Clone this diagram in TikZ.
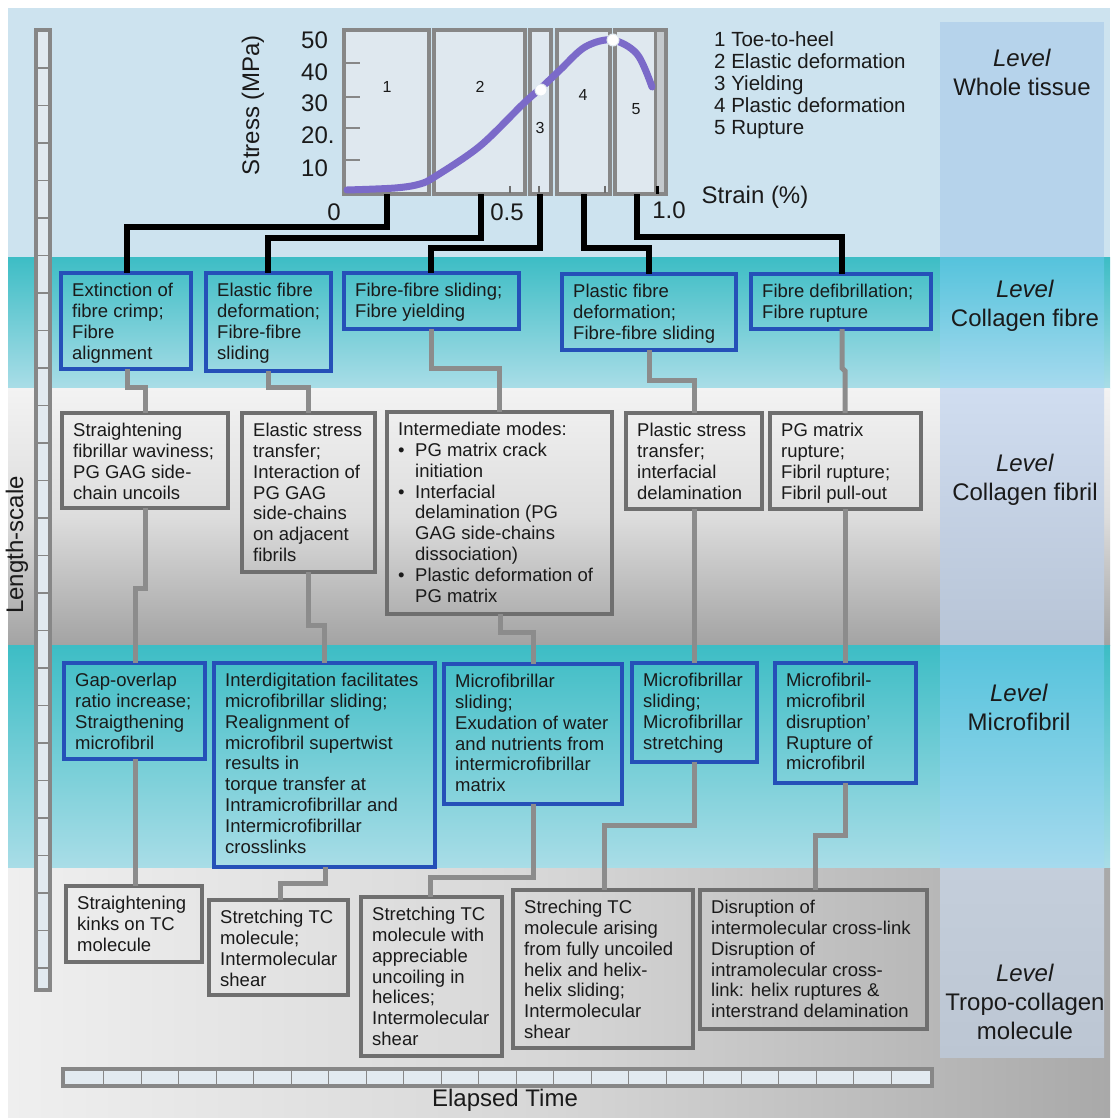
\documentclass[tikz,border=0pt]{standalone}
\usepackage{fontspec}
\setmainfont{Liberation Sans}
\definecolor{bgwhole}{HTML}{CDE3EF}
\definecolor{tealtop}{HTML}{3DBDC5}
\definecolor{tealbot}{HTML}{A9DDE7}
\definecolor{fibtop}{HTML}{F3F3F3}
\definecolor{fibmid}{HTML}{DDDDDD}
\definecolor{fibbot}{HTML}{A3A3A3}
\definecolor{trleft}{HTML}{EFEFEF}
\definecolor{trmid}{HTML}{D6D6D6}
\definecolor{trright}{HTML}{A9A9A9}
\definecolor{pwhole}{HTML}{B6D3EB}
\definecolor{ptealtop}{HTML}{55C3DC}
\definecolor{ptealbot}{HTML}{A6DAEE}
\definecolor{pfibtop}{HTML}{D0DDF0}
\definecolor{pfibbot}{HTML}{B7C4D6}
\definecolor{ptrotop}{HTML}{C4CEDB}
\definecolor{ptrobot}{HTML}{BCC6D3}
\definecolor{boxblue}{HTML}{2550B8}
\definecolor{boxgray}{HTML}{6F6F6F}
\definecolor{congray}{HTML}{8C8C8C}
\definecolor{chartgray}{HTML}{878787}
\definecolor{chartfill}{HTML}{DFE8EF}
\definecolor{stripgray}{HTML}{C4C9CD}
\definecolor{curvecol}{HTML}{7B6AC9}
\definecolor{txtc}{HTML}{1A1A1A}
\definecolor{rulerfill}{HTML}{E2EAF0}
\tikzset{
  bluebox/.style={draw=boxblue, line width=4pt, outer sep=0pt, inner sep=0pt},
  graybox/.style={draw=boxgray, line width=4pt, outer sep=0pt, inner sep=0pt},
  txt/.style={font=\fontsize{18.5}{20.8}\selectfont, align=left, inner sep=0pt, text=txtc},
  blk/.style={line width=6pt, black},
  gcon/.style={line width=5pt, congray},
  chartbox/.style={draw=chartgray, line width=4pt, fill=chartfill, outer sep=0pt, inner sep=0pt},
  lvl/.style={font=\fontsize{24}{29}\selectfont, align=center, inner sep=0pt, text=txtc},
  big/.style={font=\fontsize{24}{28}\selectfont, inner sep=0pt, text=txtc},
  num/.style={font=\fontsize{16}{18}\selectfont, inner sep=0pt, text=txtc},
  rtick/.style={line width=1.2pt, chartgray},
  ruler/.style={draw=chartgray, line width=3.5pt, fill=rulerfill}
}
\newcommand\mybox[7]{%
  \node[#1, anchor=north west, minimum width={#5-#3}, minimum height={#6-#4}] (#2) at (#3,#4) {};
  \node[txt, anchor=north west] at ([xshift=11pt,yshift=-10pt]#2.north west) {#7};}
\begin{document}
\begin{tikzpicture}[x=1pt,y=-1pt]
\useasboundingbox (0,0) rectangle (1110,1118);
\fill[white] (0,0) rectangle (1110,1118);
% bands
\fill[bgwhole] (8,8) rectangle (1110,257);
\shade[top color=tealtop, bottom color=tealbot] (8,257) rectangle (1110,388);
\shade[top color=fibtop, bottom color=fibbot, middle color=fibmid] (8,388) rectangle (1110,645);
\shade[top color=tealtop, bottom color=tealbot] (8,645) rectangle (1110,868);
\shade[left color=trleft, right color=trright, middle color=trmid] (8,868) rectangle (1110,1118);
% level panel
\fill[pwhole] (940,22) rectangle (1104,257);
\shade[top color=ptealtop, bottom color=ptealbot] (940,257) rectangle (1104,388);
\shade[top color=pfibtop, bottom color=pfibbot] (940,388) rectangle (1104,645);
\shade[top color=ptealtop, bottom color=ptealbot] (940,645) rectangle (1104,868);
\shade[top color=ptrotop, bottom color=ptrobot] (940,868) rectangle (1104,1057);
\node[lvl, anchor=north] (lv1) at (1022,49) {\textit{Level}\\Whole tissue};
\node[lvl, anchor=north] (lv2) at (1025,279.5) {\textit{Level}\\Collagen fibre};
\node[lvl, anchor=north] (lv3) at (1025,453.5) {\textit{Level}\\Collagen fibril};
\node[lvl, anchor=north] (lv4) at (1019,683.5) {\textit{Level}\\Microfibril};
\node[lvl, anchor=north] (lv5) at (1025,963.5) {\textit{Level}\\Tropo-collagen\\molecule};
% rulers
\draw[ruler] (36,30) rectangle (50,990);
\foreach \k in {0,...,24} \draw[rtick] (38,{68+37.5*\k}) -- (48,{68+37.5*\k});
\node[big, rotate=90] (lscale) at (17,545) {Length-scale};
\draw[ruler] (63,1069) rectangle (932,1086);
\foreach \k in {0,...,21} \draw[rtick] ({103.6+37.5*\k},1071) -- ({103.6+37.5*\k},1084);
\node[big] (etime) at (505,1100) {Elapsed Time};
% chart
\node[chartbox, anchor=north west, minimum width=85, minimum height=164] (c1) at (344,30) {};
\node[chartbox, anchor=north west, minimum width=91, minimum height=164] (c2) at (434,30) {};
\node[chartbox, anchor=north west, minimum width=21, minimum height=164] (c3) at (530,30) {};
\node[chartbox, anchor=north west, minimum width=53, minimum height=164] (c4) at (557,30) {};
\node[chartbox, anchor=north west, minimum width=51, minimum height=164] (c5) at (615,30) {};
\fill[stripgray] (656,32) rectangle (664,192);
\draw[chartgray, line width=3pt] (655,30) -- (655,194);
\foreach \yy in {63,97,128,160} \draw[chartgray, line width=2.5pt] (346,\yy) -- (360,\yy);
\foreach \xx in {510,539,605} \draw[boxgray, line width=1.5pt] (\xx,186) -- (\xx,193);
\draw[black, line width=3pt] (657,186) -- (657,194);
\draw[curvecol, line width=7pt, line cap=round] plot[smooth, tension=0.55] coordinates {(347,190) (395,188) (420,184) (436,176) (480,146) (523,104) (541,88) (560,70) (585,47) (612,40) (637,54) (652,87)};
\fill[white, draw=chartfill, line width=1pt] (541,90) circle (6);
\fill[white, draw=chartfill, line width=1pt] (613,40) circle (6);
\node[num] (n1) at (387,87) {1};
\node[num] (n2) at (480,87) {2};
\node[num] (n3) at (540,128) {3};
\node[num] (n4) at (583,95) {4};
\node[num] (n5) at (636,109) {5};
\node[big, rotate=90] (ylab) at (253,105) {Stress (MPa)};
\node[big, anchor=west] (t50) at (301,40) {50};
\node[big, anchor=west] (t40) at (301,72) {40};
\node[big, anchor=west] (t30) at (301,103) {30};
\node[big, anchor=west] (t20) at (301,135) {20.};
\node[big, anchor=west] (t10) at (301,168) {10};
\node[big] (x0) at (334,212) {0};
\node[big] (x05) at (507,212) {0.5};
\node[big] (x10) at (669,210) {1.0};
\node[big] (xlab) at (755,197) {Strain (\%)};
\node[font=\fontsize{20.5}{22}\selectfont, align=left, anchor=north west, inner sep=0pt, text=txtc] (legend) at (714,31)
  {1 Toe-to-heel\\2 Elastic deformation\\3 Yielding\\4 Plastic deformation\\5 Rupture};
% collagen fibre level
\mybox{bluebox}{fa}{61}{273}{191}{369}{Extinction of\\fibre crimp;\\Fibre\\alignment}
\mybox{bluebox}{fb}{206}{273}{331}{371}{Elastic fibre\\deformation;\\Fibre-fibre\\sliding}
\mybox{bluebox}{fc}{344}{273}{519}{329}{Fibre-fibre sliding;\\Fibre yielding}
\mybox{bluebox}{fd}{562}{274}{736}{350}{Plastic fibre\\deformation;\\Fibre-fibre sliding}
\mybox{bluebox}{fe}{751}{274}{931}{329}{Fibre defibrillation;\\Fibre rupture}
% collagen fibril level
\mybox{graybox}{ga}{62}{413}{228}{508}{Straightening\\fibrillar waviness;\\PG GAG side-\\chain uncoils}
\mybox{graybox}{gb}{242}{413}{375}{572}{Elastic stress\\transfer;\\Interaction of\\PG GAG\\side-chains\\on adjacent\\fibrils}
\mybox{graybox}{gc}{387}{412}{612}{614}{Intermediate modes:\\\makebox[17pt][l]{•}PG matrix crack\\\hspace*{17pt}initiation\\\makebox[17pt][l]{•}Interfacial\\\hspace*{17pt}delamination (PG\\\hspace*{17pt}GAG side-chains\\\hspace*{17pt}dissociation)\\\makebox[17pt][l]{•}Plastic deformation of\\\hspace*{17pt}PG matrix}
\mybox{graybox}{gd}{626}{413}{762}{509}{Plastic stress\\transfer;\\interfacial\\delamination}
\mybox{graybox}{ge}{770}{413}{921}{509}{PG matrix\\rupture;\\Fibril rupture;\\Fibril pull-out}
% microfibril level
\mybox{bluebox}{ma}{64}{663}{205}{759}{Gap-overlap\\ratio increase;\\Straigthening\\microfibril}
\mybox{bluebox}{mb}{214}{663}{435}{867}{Interdigitation facilitates\\microfibrillar sliding;\\Realignment of\\microfibril supertwist\\results in\\torque transfer at\\Intramicrofibrillar and\\Intermicrofibrillar\\crosslinks}
\mybox{bluebox}{mc}{444}{664}{622}{804}{Microfibrillar\\sliding;\\Exudation of water\\and nutrients from\\intermicrofibrillar\\matrix}
\mybox{bluebox}{md}{632}{663}{757}{762}{Microfibrillar\\sliding;\\Microfibrillar\\stretching}
\mybox{bluebox}{me}{775}{663}{916}{783}{Microfibril-\\microfibril\\disruption'\\Rupture of\\microfibril}
% tropo-collagen level
\mybox{graybox}{ta}{66}{886}{202}{962}{Straightening\\kinks on TC\\molecule}
\mybox{graybox}{tb}{209}{900}{348}{995}{Stretching TC\\molecule;\\Intermolecular\\shear}
\mybox{graybox}{tc}{361}{897}{502}{1056}{Stretching TC\\molecule with\\appreciable\\uncoiling in\\helices;\\Intermolecular\\shear}
\mybox{graybox}{td}{513}{890}{693}{1048}{Streching TC\\molecule arising\\from fully uncoiled\\helix and helix-\\helix sliding;\\Intermolecular\\shear}
\mybox{graybox}{te}{700}{890}{927}{1029}{Disruption of\\intermolecular cross-link\\Disruption of\\intramolecular cross-\\link: helix ruptures \&\\interstrand delamination}
% black connectors
\draw[blk] (c1.south -| 387,0) |- (127,227) -- (fa.north -| 127,0);
\draw[blk] (c2.south -| 481,0) |- (268,238) -- (fb.north -| 268,0);
\draw[blk] (c3.south -| 540,0) |- (431,248) -- (fc.north -| 431,0);
\draw[blk] (c4.south -| 584,0) |- (649,248) -- (fd.north -| 649,0);
\draw[blk] (c5.south -| 637,0) |- (842,237) -- (fe.north -| 842,0);
% gray connectors
\draw[gcon] (fa.south -| 127,0) |- (145,387) -- (ga.north -| 145,0);
\draw[gcon] (fb.south -| 268,0) |- (308,387) -- (gb.north -| 308,0);
\draw[gcon] (fc.south -| 431,0) |- (499,368) -- (gc.north -| 499,0);
\draw[gcon] (fd.south -| 649,0) |- (694,380) -- (gd.north -| 694,0);
\draw[gcon] (fe.south -| 842,0) -- (842,368) -- (845,371) -- (ge.north -| 845,0);
\draw[gcon] (ga.south -| 145,0) |- (135,588) -- (ma.north -| 135,0);
\draw[gcon] (gb.south -| 308,0) |- (324,625) -- (mb.north -| 324,0);
\draw[gcon] (gc.south -| 500,0) |- (533,632) -- (mc.north -| 533,0);
\draw[gcon] (gd.south -| 694,0) -- (md.north -| 694,0);
\draw[gcon] (ge.south -| 845,0) -- (me.north -| 845,0);
\draw[gcon] (ma.south -| 135,0) -- (ta.north -| 135,0);
\draw[gcon] (mb.south -| 325,0) |- (280,883) -- (tb.north -| 280,0);
\draw[gcon] (mc.south -| 533,0) |- (430,877) -- (tc.north -| 430,0);
\draw[gcon] (md.south -| 694,0) |- (604,825) -- (td.north -| 604,0);
\draw[gcon] (me.south -| 845,0) |- (815,835) -- (te.north -| 815,0);
\end{tikzpicture}
\end{document}
